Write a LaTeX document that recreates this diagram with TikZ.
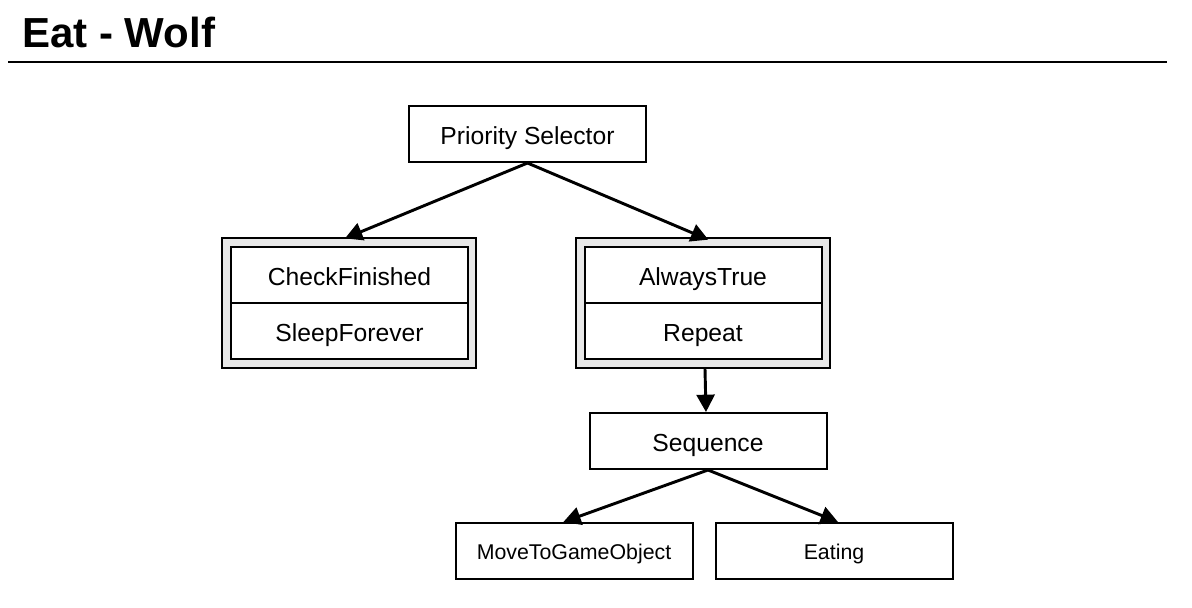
\documentclass[tikz,border=0pt]{standalone}
\usepackage{fontspec}
\setmainfont{Liberation Sans}
\usetikzlibrary{arrows.meta}
\definecolor{decofill}{HTML}{E8E8E8}
\begin{document}
\begin{tikzpicture}[x=0.75pt,y=-0.75pt,
  box/.style={draw=black,line width=1.5pt,fill=white,minimum width=177.75pt,minimum height=42pt,inner sep=0pt,font=\fontsize{18.5}{22}\selectfont,text height=16pt,text depth=0pt},
  smallbox/.style={box,font=\fontsize{16}{19}\selectfont,text height=12pt,text depth=0pt},
  deco/.style={draw=black,line width=1.5pt,fill=decofill,minimum width=190.5pt,minimum height=97.5pt,inner sep=0pt},
  link/.style={line width=2.2pt,-{Triangle[length=13pt,width=13.5pt]}}]
\useasboundingbox (0,0) rectangle (1192,607);
\node[anchor=base west,font=\fontsize{31.5}{36}\selectfont\bfseries,inner sep=0pt] (title) at (22,47) {Eat - Wolf};
\coordinate (rl) at (8,62);
\coordinate (rr) at (1167,62);
\draw[line width=1.5pt] (rl) -- (rr);
\node[box] (ps) at (527.5,134) {Priority Selector};
\node[deco] (dl) at (349,303) {};
\node[box] (cf) at (349.5,275) {CheckFinished};
\node[box] (sf) at (349.5,331) {SleepForever};
\node[deco] (dr) at (703,303) {};
\node[box] (at) at (703,275) {AlwaysTrue};
\node[box] (rp) at (703,331) {Repeat};
\node[box] (seq) at (708,441) {Sequence};
\node[smallbox] (mv) at (574,551) {MoveToGameObject};
\node[smallbox] (eat) at (834,551) {Eating};
\draw[link] (ps.south) -- ([xshift=-3pt,yshift=-1pt]dl.north);
\draw[link] (ps.south) -- ([xshift=4pt,yshift=-2pt]dr.north);
\draw[link] ([xshift=1.5pt]dr.south) -- ([xshift=-1.5pt]seq.north);
\draw[link] (seq.south) -- ([xshift=-8pt]mv.north);
\draw[link] (seq.south) -- ([xshift=3pt]eat.north);
\end{tikzpicture}
\end{document}
